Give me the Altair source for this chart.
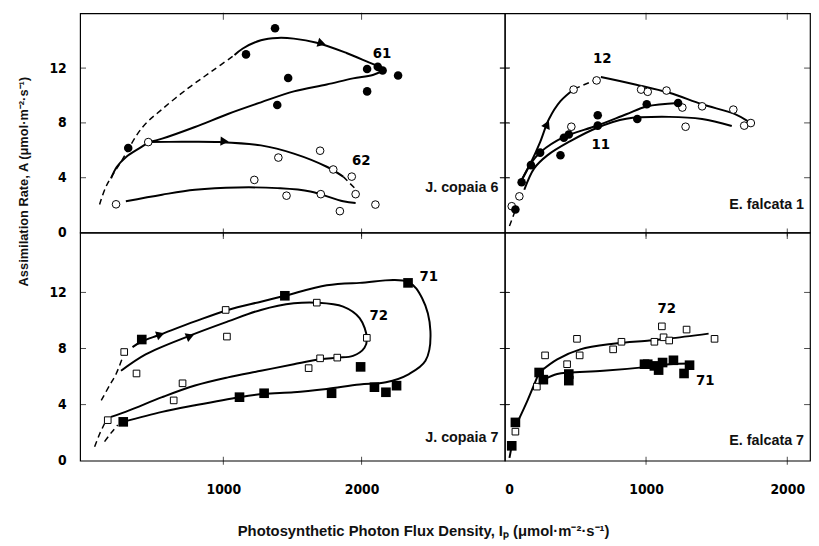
import altair as alt
import pandas as pd

# ---------------- values ----------------
# Top left: J. copaia 6
c6_61_I = [312, 1164, 1374, 1469, 1390, 2040, 2117, 2152, 2264, 2040]
c6_61_A = [6.17, 13.0, 14.9, 11.27, 9.3, 11.94, 12.09, 11.82, 11.46, 10.3]
c6_62_I = [224, 457, 1398, 1700, 1224, 1457, 1705, 1795, 1929, 1957, 1843, 2100]
c6_62_A = [2.06, 6.6, 5.47, 5.97, 3.84, 2.69, 2.8, 4.6, 4.08, 2.8, 1.56, 2.04]
c6_solid = {
    "61top": ([1081, 1141, 1272, 1391, 1510, 1676, 1891, 2057, 2176],
              [12.95, 13.43, 14.03, 14.2, 14.15, 13.85, 13.1, 12.4, 11.9]),
    "61ret": ([2176, 2081, 1938, 1748, 1510, 1272, 1033, 795, 557, 462],
              [11.9, 11.5, 11.25, 10.8, 10.3, 9.5, 8.65, 7.7, 6.85, 6.6]),
    "lead": ([188, 230, 295, 400, 462], [3.96, 4.8, 5.5, 6.2, 6.6]),
    "62up": ([462, 700, 974, 1272, 1510, 1748, 1867],
             [6.6, 6.62, 6.6, 6.36, 5.76, 4.8, 4.08]),
    "62low": ([295, 557, 795, 1105, 1391, 1629, 1867, 1957],
              [2.28, 2.76, 3.12, 3.29, 3.24, 3.0, 2.28, 2.16]),
}
c6_dashed = {
    "61in": ([105, 152, 260, 414, 557, 748, 914, 1081],
             [2.04, 3.36, 5.16, 7.67, 9.0, 10.55, 11.75, 12.95]),
    "62end": ([1867, 1950], [4.08, 3.24]),
}
c6_arrow_I = [1712, 1009]
c6_arrow_A = [13.8, 6.65]
c6_arrow_ang = [16, 3]
c6_lab = ["61", "62"]
c6_lab_I = [2147, 1998]
c6_lab_A = [13.07, 5.27]

# Top right: E. falcata 1
f1_11_I = [75, 119, 185, 250, 394, 418, 453, 658, 658, 938, 1005, 1227]
f1_11_A = [1.68, 3.67, 4.92, 5.83, 5.64, 6.91, 7.15, 8.56, 7.8, 8.28, 9.36, 9.45]
f1_12_I = [49, 103, 471, 487, 650, 965, 1012, 1145, 1257, 1280, 1397, 1618, 1695, 1742]
f1_12_A = [1.92, 2.64, 7.72, 10.43, 11.1, 10.43, 10.27, 10.36, 9.12, 7.72, 9.21, 8.97, 7.8, 7.99]
f1_solid = {
    "12up": ([114, 180, 250, 312, 394, 492], [3.72, 5.0, 6.6, 8.27, 9.59, 10.48]),
    "12top": ([680, 931, 1164, 1397, 1630, 1723], [11.35, 10.79, 10.2, 9.36, 8.64, 8.11]),
    "11up": ([114, 184, 254, 417, 650, 860, 1005, 1227],
             [3.72, 5.04, 5.88, 6.96, 7.79, 8.63, 9.2, 9.45]),
    "ret": ([138, 208, 301, 464, 650, 860, 1164, 1397, 1607],
            [3.12, 4.68, 5.63, 6.67, 7.63, 8.3, 8.44, 8.28, 7.77]),
}
f1_dashed = {
    "start": ([33, 68], [0.48, 1.44]),
    "12mid": ([492, 645], [10.48, 11.15]),
}
f1_arrow_I = [300]
f1_arrow_A = [7.9]
f1_arrow_ang = [295]
f1_lab = ["12", "11"]
f1_lab_I = [690, 680]
f1_lab_A = [12.71, 6.47]

# Bottom left: J. copaia 7
c7_71_I = [276, 410, 1445, 1117, 1295, 1783, 1993, 2093, 2176, 2253, 2336]
c7_71_A = [2.77, 8.64, 11.76, 4.53, 4.81, 4.81, 6.69, 5.24, 4.88, 5.35, 12.68]
c7_72_I = [164, 283, 372, 641, 705, 1017, 1026, 1676, 1617, 1700, 1824, 2038]
c7_72_A = [2.89, 7.75, 6.22, 4.3, 5.52, 10.75, 8.85, 11.27, 6.6, 7.3, 7.35, 8.76]
c7_solid = {
    "71": ([343, 410, 545, 795, 1033, 1272, 1445, 1748, 1986, 2336, 2438, 2498, 2462,
            2343, 2176, 1986, 1748, 1510, 1295, 1117, 795, 557, 276],
           [8.1, 8.5, 9.0, 9.93, 10.75, 11.34, 11.76, 12.51, 12.68, 12.75, 11.58, 9.23, 7.12,
            6.18, 5.59, 5.43, 5.12, 4.88, 4.77, 4.53, 3.95, 3.48, 2.77]),
    "72": ([260, 438, 748, 1033, 1272, 1510, 1676, 1867, 1986, 2038, 2021, 1938, 1824,
            1700, 1510, 1272, 1033, 795, 557, 319, 188],
           [6.41, 7.58, 8.88, 9.93, 10.75, 11.22, 11.27, 10.99, 10.17, 8.76, 8.05, 7.47, 7.35,
            7.23, 6.88, 6.41, 5.94, 5.36, 4.53, 3.59, 3.12]),
}
c7_dashed = {
    "a": ([117, 176, 224, 271], [4.3, 5.35, 6.18, 7.35]),
    "b": ([69, 105, 141], [1.0, 1.9, 2.65]),
    "c": ([141, 190, 236], [1.36, 2.0, 2.54]),
}
c7_arrow_I = [545, 760]
c7_arrow_A = [8.99, 8.88]
c7_arrow_ang = [341, 338]
c7_lab = ["71", "72"]
c7_lab_I = [2486, 2124]
c7_lab_A = [13.2, 10.4]

# Bottom right: E. falcata 7
f7_71_I = [49, 75, 243, 273, 453, 453, 989, 1012, 1059, 1089, 1117, 1194, 1269, 1308]
f7_71_A = [1.06, 2.73, 6.29, 5.78, 6.18, 5.71, 6.88, 6.88, 6.76, 6.46, 7.0, 7.16, 6.22, 6.81]
f7_72_I = [75, 227, 285, 441, 511, 530, 767, 826, 1059, 1112, 1124, 1164, 1287, 1485]
f7_72_A = [2.07, 5.28, 7.51, 6.88, 8.69, 7.51, 7.94, 8.48, 8.48, 9.58, 8.8, 8.57, 9.35, 8.69]
f7_solid = {
    "base": ([33, 49], [0.2, 1.06]),
    "71up": ([91, 161, 243], [2.77, 4.3, 6.29]),
    "72": ([243, 371, 534, 767, 1024, 1164, 1443], [6.29, 7.23, 7.94, 8.34, 8.57, 8.71, 9.06]),
    "71": ([273, 371, 453, 697, 1012, 1164, 1315], [5.78, 6.18, 6.29, 6.41, 6.69, 6.88, 6.93]),
}
f7_dashed = {}
f7_lab = ["72", "71"]
f7_lab_I = [1147, 1420]
f7_lab_A = [10.9, 5.75]

panel_names = ["J. copaia 6", "E. falcata 1", "J. copaia 7", "E. falcata 7"]
panel_name_I = [2990, 2119, 2990, 2119]
panel_name_A = [3.24, 2.04, 1.62, 1.43]

x_ticks_left = [1000, 2000]
x_ticks_right = [0, 1000, 2000]
y_ticks = [0, 4, 8, 12]

Y_TITLE = "Assimilation Rate, A (μmol·m⁻²·s⁻¹)"
X_TITLE = "Photosynthetic Photon Flux Density, Iₚ (μmol·m⁻²·s⁻¹)"

# ---------------- styling ----------------
NUM_FONT = "Liberation Sans Narrow, DejaVu Sans Condensed, sans-serif"
TXT_FONT = "Liberation Sans, Arial, sans-serif"
LW = 430
RW = 309
TH = 222
BH = 231
LDOM = [-36, 3036]
RDOM = [0, 2161]
TDOM = [0, 16]
BDOM = [0, 16.27]


def curves_df(curves):
    rows = []
    for name, (xs, ys) in curves.items():
        for k, (x, y) in enumerate(zip(xs, ys)):
            rows.append({"seg": name, "k": k, "I": x, "A": y})
    return pd.DataFrame(rows, columns=["seg", "k", "I", "A"])


def panel(filled, opened, shape, solid, dashed, arrows, labels, name, name_I, name_A,
          xdom, ydom, w, h, xaxis, yaxis, inner_left, inner_right, xtick_vals):
    xs = alt.Scale(domain=xdom, nice=False, zero=False)
    ys = alt.Scale(domain=ydom, nice=False, zero=False)
    X = lambda f: alt.X(f, type="quantitative", scale=xs, axis=xaxis)
    Y = lambda f: alt.Y(f, type="quantitative", scale=ys, axis=yaxis)
    layers = []

    sdf = curves_df(solid)
    layers.append(alt.Chart(sdf).mark_line(color="black", strokeWidth=2,
                                           interpolate="catmull-rom")
                  .encode(x=X("I"), y=Y("A"), detail="seg:N", order="k:Q"))
    if dashed:
        ddf = curves_df(dashed)
        layers.append(alt.Chart(ddf).mark_line(color="black", strokeWidth=1.5,
                                               strokeDash=[6, 4], interpolate="catmull-rom")
                      .encode(x=X("I"), y=Y("A"), detail="seg:N", order="k:Q"))
    if arrows is not None:
        adf = pd.DataFrame({"I": arrows[0], "A": arrows[1], "ang": arrows[2]})
        layers.append(alt.Chart(adf).mark_point(shape="triangle-right", filled=True,
                                                color="black", size=90, opacity=1)
                      .encode(x=X("I"), y=Y("A"), angle=alt.Angle("ang:Q", scale=None)))
    fdf = pd.DataFrame({"I": filled[0], "A": filled[1]})
    odf = pd.DataFrame({"I": opened[0], "A": opened[1]})
    if shape == "circle":
        layers.append(alt.Chart(odf).mark_point(shape="circle", filled=True, fill="white",
                                                stroke="black", strokeWidth=1, size=60, opacity=1)
                      .encode(x=X("I"), y=Y("A")))
        layers.append(alt.Chart(fdf).mark_point(shape="circle", filled=True, color="black",
                                                size=75, opacity=1)
                      .encode(x=X("I"), y=Y("A")))
    else:
        layers.append(alt.Chart(odf).mark_point(shape="square", filled=True, fill="white",
                                                stroke="black", strokeWidth=1, size=45, opacity=1)
                      .encode(x=X("I"), y=Y("A")))
        layers.append(alt.Chart(fdf).mark_point(shape="square", filled=True, color="black",
                                                size=95, opacity=1)
                      .encode(x=X("I"), y=Y("A")))
    ldf = pd.DataFrame({"I": labels[1], "A": labels[2], "t": labels[0]})
    layers.append(alt.Chart(ldf).mark_text(font=NUM_FONT, fontSize=15, fontWeight="bold",
                                           color="black")
                  .encode(x=X("I"), y=Y("A"), text="t:N"))
    ndf = pd.DataFrame({"I": [name_I], "A": [name_A], "t": [name]})
    layers.append(alt.Chart(ndf).mark_text(font=TXT_FONT, fontSize=14.5, fontWeight="bold",
                                           color="#111", align="right", baseline="middle")
                  .encode(x=X("I"), y=Y("A"), text="t:N"))
    # border tick marks
    xt = pd.DataFrame({"v": xtick_vals})
    yt = pd.DataFrame({"v": [4, 8, 12]})
    layers.append(alt.Chart(xt).mark_tick(orient="vertical", size=7, thickness=1, color="black")
                  .encode(x=X("v"), y=alt.value(3)))
    layers.append(alt.Chart(xt).mark_tick(orient="vertical", size=8, thickness=1, color="black")
                  .encode(x=X("v"), y=alt.value(h)))
    if inner_left:
        layers.append(alt.Chart(yt).mark_tick(orient="horizontal", size=10, thickness=1,
                                              color="black")
                      .encode(y=Y("v"), x=alt.value(0)))
    else:
        layers.append(alt.Chart(yt).mark_tick(orient="horizontal", size=6, thickness=1,
                                              color="black")
                      .encode(y=Y("v"), x=alt.value(3)))
    if inner_right:
        layers.append(alt.Chart(yt).mark_tick(orient="horizontal", size=10, thickness=1,
                                              color="black")
                      .encode(y=Y("v"), x=alt.value(w)))
    else:
        layers.append(alt.Chart(yt).mark_tick(orient="horizontal", size=6, thickness=1,
                                              color="black")
                      .encode(y=Y("v"), x=alt.value(w - 3)))
    return alt.layer(*layers).properties(width=w, height=h)


def yax(title=None):
    kw = dict(values=y_ticks, ticks=False, domain=False, grid=False, labelPadding=14,
              labelFont=NUM_FONT, labelFontSize=14, labelFontWeight="bold", labelColor="black")
    if title:
        kw.update(title=title, titleFont=TXT_FONT, titleFontSize=13, titleFontWeight="bold",
                  titlePadding=19, titleColor="#111", titleY=170)
    else:
        kw.update(title=None)
    return alt.Axis(**kw)


def xax(vals):
    return alt.Axis(values=vals, ticks=False, domain=False, grid=False, labelPadding=22,
                    labelFont=NUM_FONT, labelFontSize=14, labelFontWeight="bold",
                    labelColor="black", title=None, format="d")


tl = panel((c6_61_I, c6_61_A), (c6_62_I, c6_62_A), "circle", c6_solid, c6_dashed,
           (c6_arrow_I, c6_arrow_A, c6_arrow_ang), (c6_lab, c6_lab_I, c6_lab_A),
           panel_names[0], panel_name_I[0], panel_name_A[0],
           LDOM, TDOM, LW, TH, None, yax(Y_TITLE), False, True, x_ticks_left)
tr = panel((f1_11_I, f1_11_A), (f1_12_I, f1_12_A), "circle", f1_solid, f1_dashed,
           (f1_arrow_I, f1_arrow_A, f1_arrow_ang), (f1_lab, f1_lab_I, f1_lab_A),
           panel_names[1], panel_name_I[1], panel_name_A[1],
           RDOM, TDOM, RW, TH, None, None, True, False, x_ticks_left)
bl = panel((c7_71_I, c7_71_A), (c7_72_I, c7_72_A), "square", c7_solid, c7_dashed,
           (c7_arrow_I, c7_arrow_A, c7_arrow_ang), (c7_lab, c7_lab_I, c7_lab_A),
           panel_names[2], panel_name_I[2], panel_name_A[2],
           LDOM, BDOM, LW, BH, xax(x_ticks_left), yax(), False, True, x_ticks_left)
br = panel((f7_71_I, f7_71_A), (f7_72_I, f7_72_A), "square", f7_solid, f7_dashed,
           None, (f7_lab, f7_lab_I, f7_lab_A),
           panel_names[3], panel_name_I[3], panel_name_A[3],
           RDOM, BDOM, RW, BH, xax(x_ticks_right), None, True, False, x_ticks_left)

chart = alt.concat(tl, tr, bl, br, columns=2, spacing=0, bounds="flush").properties(
    padding={"left": 8, "top": 0, "right": 0, "bottom": 0},
    title=alt.TitleParams(X_TITLE, orient="bottom", anchor="middle", offset=28,
                          font=TXT_FONT, fontSize=15, fontWeight="bold", color="#111", dx=10),
).configure_view(stroke="black", strokeWidth=1.2)

chart.save("out.html", embed_options={"renderer": "svg", "actions": False})
